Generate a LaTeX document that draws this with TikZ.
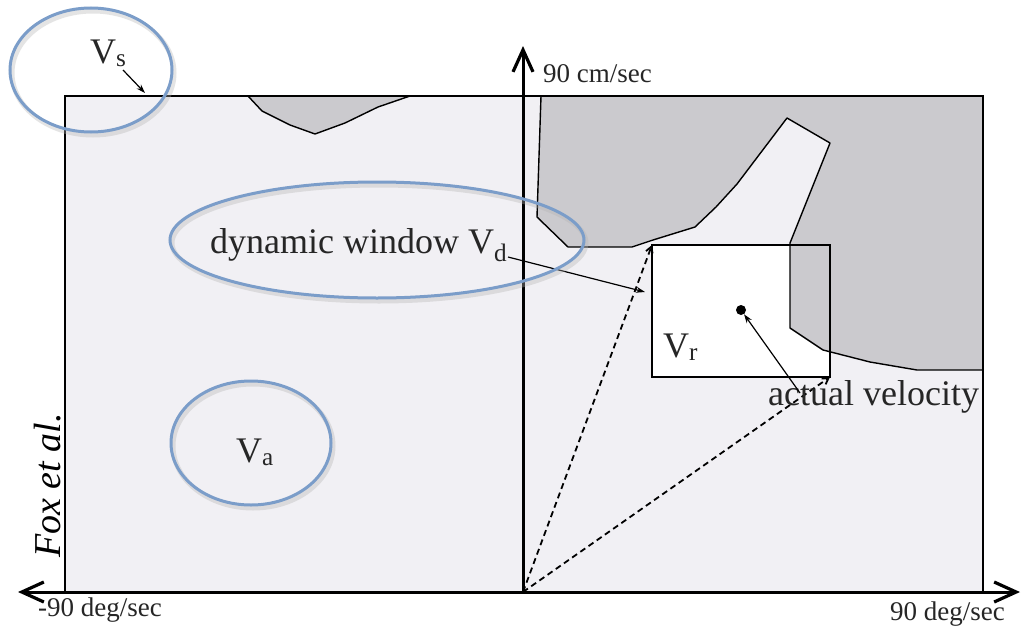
\documentclass[tikz,border=0pt]{standalone}
\usepackage{fontspec}
\setmainfont{Liberation Serif}
\usetikzlibrary{arrows.meta}
\definecolor{plotbg}{HTML}{F1F0F4}
\definecolor{obst}{HTML}{CBCACE}
\definecolor{hl}{HTML}{7B9DC9}
\tikzset{
  big/.style={inner sep=0pt, font=\fontsize{36}{40}\selectfont, text=black!85},
  axlabel/.style={inner sep=0pt, font=\fontsize{27}{32}\selectfont, text=black!85},
  axis/.style={line width=3pt, -{Straight Barb[length=22pt,width=20pt,line width=3.2pt]}},
  thinarrow/.style={line width=1.2pt, -{Stealth[length=9pt,width=6pt]}},
  dashline/.style={line width=1.8pt, dash pattern=on 6pt off 4pt, -{Straight Barb[length=6pt,width=7pt]}},
  hlring/.style={draw=hl, line width=3pt},
  hlshadow/.style={draw=black!30, line width=5pt, opacity=0.35},
  obstacle/.style={fill=obst, draw=black, line width=1.4pt, line join=round}
}
\begin{document}
\begin{tikzpicture}[x=1pt,y=-1pt]
\useasboundingbox[fill=white] (0,0) rectangle (1022,629);
% plot area
\coordinate (ptl) at (65,96);
\coordinate (pbr) at (983,592);
\fill[plotbg] (ptl) rectangle (pbr);
% top-left obstacle
\draw[obstacle] (248,96) -- (262,111) -- (290,125) -- (315,134) -- (345,123) -- (378,107) -- (410,96);
% Vr window
\coordinate (rtl) at (652,245);
\coordinate (rbr) at (830,377);
\fill[white] (rtl) rectangle (rbr);
% right obstacle
\draw[obstacle] (541,96) -- (537,217) -- (568,247) -- (632,247) -- (653,240) -- (695,227)
  -- (716,207) -- (737,184) -- (787,118) -- (830,143) -- (790,243) -- (790,328)
  -- (823,350) -- (870,362) -- (917,370) -- (983,370) -- (983,96) -- cycle;
\draw[line width=1.6pt] (rtl) rectangle (rbr);
\draw[line width=1.4pt] (ptl) rectangle (pbr);
% origin and axes
\coordinate (origin) at (523,592);
\coordinate (ytip) at (523,46);
\coordinate (xl) at (18,592);
\coordinate (xr) at (1020,592);
\draw[dashline] (origin) -- (rtl);
\draw[dashline] (origin) -- (rbr);
\draw[axis] (origin) -- (ytip);
\draw[axis] (origin) -- (xl);
\draw[axis] (origin) -- (xr);
% actual velocity dot
\node[circle, fill=black, inner sep=0pt, minimum size=10pt] (dot) at (741,310) {};
% labels
\node[axlabel, anchor=base west] (ylab) at (543,82) {90 cm/sec};
\node[axlabel, anchor=base west] (xllab) at (38,616) {-90 deg/sec};
\node[axlabel, anchor=base west] (xrlab) at (890,620) {90 deg/sec};
\node[big, anchor=base west] (vs) at (90,63) {V\textsubscript{s}};
\node[big, anchor=base west] (vd) at (210,253) {dynamic window V\textsubscript{d}};
\node[big, anchor=base west] (vr) at (663,357) {V\textsubscript{r}};
\node[big, anchor=base west] (va) at (236,462) {V\textsubscript{a}};
\node[big, anchor=base west] (av) at (768,405) {actual velocity};
\node[inner sep=0pt, font=\fontsize{38}{42}\selectfont\itshape, rotate=90, anchor=base west] (fox) at (60,558) {Fox et al.};
% pointers
\coordinate (vstip) at (145,93);
\coordinate (vdtip) at (645,292);
\draw[thinarrow] (123,70) -- (vstip);
\draw[thinarrow] (508,257) -- (vdtip);
\draw[thinarrow] (800,393) -- (dot);
% highlight ellipses
\foreach \cx/\cy/\rx/\ry in {91/70/81/62, 377/240/207/58, 251/443/80/62}{
  \draw[hlshadow] (\cx+2,\cy+3) ellipse [x radius=\rx, y radius=\ry];
  \draw[hlring] (\cx,\cy) ellipse [x radius=\rx, y radius=\ry];
}
\end{tikzpicture}
\end{document}
